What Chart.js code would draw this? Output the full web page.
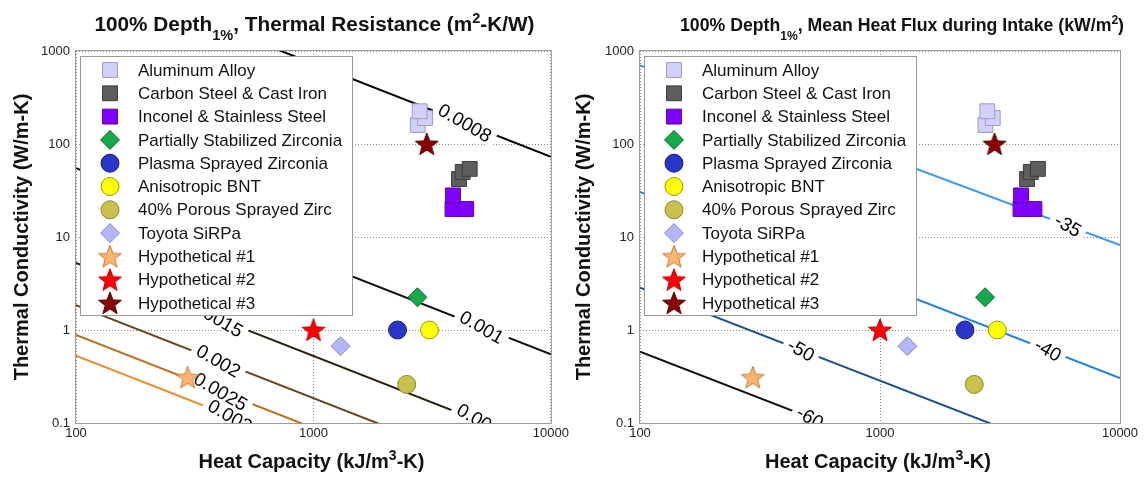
<!DOCTYPE html>
<html>
<head>
<meta charset="utf-8">
<script src="https://cdn.jsdelivr.net/npm/chart.js@4.4.1/dist/chart.umd.min.js"></script>
<style>
  html, body { margin: 0; padding: 0; background: #fff; }
  #wrap { position: relative; width: 1144px; height: 477px; }
  .panel { position: absolute; top: 0; width: 572px; height: 477px; }
</style>
</head>
<body>
<div id="wrap">
  <div class="panel" style="left:0"><canvas id="chartResist" width="572" height="477"></canvas></div>
  <div class="panel" style="left:572px"><canvas id="chartFlux" width="572" height="477"></canvas></div>
</div>
<script>
// DATA

const materials = [
  'Aluminum Alloy', 'Carbon Steel & Cast Iron', 'Inconel & Stainless Steel',
  'Partially Stabilized Zirconia', 'Plasma Sprayed Zirconia', 'Anisotropic BNT',
  '40% Porous Sprayed Zirc', 'Toyota SiRPa', 'Hypothetical #1', 'Hypothetical #2', 'Hypothetical #3'
];

// [heat capacity kJ/m3-K, thermal conductivity W/m-K]
const aluminum = [[2750, 160], [2950, 190], [2800, 225]];
const carbonSteel = [[4100, 42], [4250, 50], [4550, 54]];
const inconel = [[3850, 20], [4400, 20], [3870, 28]];
const stabilizedZr = [[2740, 2.25]];
const plasmaZr = [[2260, 1.0]];
const bnt = [[3080, 1.0]];
const porousZr = [[2470, 0.26]];
const sirpa = [[1300, 0.67]];
const hyp1 = [[295, 0.31]];
const hyp2 = [[1000, 1.0]];
const hyp3 = [[3000, 100]];

const xTicks = [100, 1000, 10000];
const yTicks = [0.1, 1, 10, 100, 1000];

// contour levels, each line given by two points [C1, k1, C2, k2]
const resistLevels = ['0.0008', '0.001', '0.0015', '0.002', '0.0025', '0.003'];
const resistLines = [
  [100, 7300, 10000, 73],
  [100, 54.8, 10000, 0.548],
  [100, 5.25, 10000, 0.0525],
  [100, 1.85, 10000, 0.0185],
  [100, 0.883, 10000, 0.00883],
  [100, 0.53, 10000, 0.0053]
];
const resistLabelAt = [[4340], [5110], [390, 5200], [398], [406], [445]];

const fluxLevels = ['-35', '-40', '-50', '-60'];
const fluxLines = [
  [100, 700, 10000, 8.2],
  [100, 30.5, 10000, 0.305],
  [100, 2.85, 10000, 0.0285],
  [100, 0.585, 10000, 0.00585]
];
const fluxLabelAt = [[6070], [5010], [469], [511]];

// STYLE

const FONT = '"Liberation Sans", Arial, sans-serif';
Chart.defaults.font.family = FONT;

const seriesData = [aluminum, carbonSteel, inconel, stabilizedZr, plasmaZr, bnt, porousZr, sirpa, hyp1, hyp2, hyp3];

function starImage(fill, edge, r) {
  const s = Math.ceil(2 * r + 4);
  const c = document.createElement('canvas');
  c.width = s; c.height = s;
  const g = c.getContext('2d');
  g.beginPath();
  for (let i = 0; i < 10; i++) {
    const rr = i % 2 ? r * 0.42 : r;
    const ang = -Math.PI / 2 + i * Math.PI / 5;
    g.lineTo(s / 2 + rr * Math.cos(ang), s / 2 + rr * Math.sin(ang) + 1);
  }
  g.closePath();
  g.fillStyle = fill; g.fill();
  g.strokeStyle = edge; g.lineWidth = 1; g.stroke();
  return c;
}

const markerStyles = [
  { shape: 'rect', fill: '#d0d0f8', edge: '#9c9cc8', r: 10.5 },
  { shape: 'rect', fill: '#5e5e5e', edge: '#3c3c3c', r: 10.5 },
  { shape: 'rect', fill: '#7f00ff', edge: '#5a00b4', r: 10.5 },
  { shape: 'rectRot', fill: '#16a84a', edge: '#0c6a2c', r: 9.5 },
  { shape: 'circle', fill: '#2a36c8', edge: '#17207a', r: 9 },
  { shape: 'circle', fill: '#ffff00', edge: '#9a9a00', r: 9 },
  { shape: 'circle', fill: '#c8c24c', edge: '#8a8630', r: 9 },
  { shape: 'rectRot', fill: '#b6b6f6', edge: '#8a8ad0', r: 9.5 },
  { shape: starImage('#ffb470', '#c07a3a', 12), fill: '#ffb470', edge: '#c07a3a', r: 12 },
  { shape: starImage('#ff0000', '#b80000', 12), fill: '#ff0000', edge: '#b80000', r: 12 },
  { shape: starImage('#8b0000', '#4a0000', 12), fill: '#8b0000', edge: '#4a0000', r: 12 }
];

const resistColors = ['#000000', '#111111', '#2e2010', '#6a4520', '#b96e20', '#ea8a2e'];
const fluxColors = ['#3a96f0', '#1f7fe6', '#1c4f8f', '#111111'];

// DRAWING HELPERS

function drawRich(ctx, parts, cx, y, size, fitWidth) {
  const fontFor = p => 'bold ' + (p.sub || p.sup ? Math.round(size * 0.7) : size) + 'px ' + FONT;
  let w = 0;
  parts.forEach(p => { ctx.font = fontFor(p); w += ctx.measureText(p.t).width; });
  const sx = fitWidth ? fitWidth / w : 1;
  ctx.save();
  ctx.translate(cx - w * sx / 2, y);
  ctx.scale(sx, 1);
  ctx.fillStyle = '#111';
  ctx.textAlign = 'left';
  ctx.textBaseline = 'alphabetic';
  let x = 0;
  parts.forEach(p => {
    ctx.font = fontFor(p);
    const dy = p.sub ? size * 0.45 : (p.sup ? -size * 0.38 : 0);
    ctx.fillText(p.t, x, dy);
    x += ctx.measureText(p.t).width;
  });
  ctx.restore();
}

function drawContourLabels(chart, cfg) {
  const { ctx, chartArea: a, scales: { x, y } } = chart;
  ctx.save();
  ctx.beginPath();
  ctx.rect(a.left, a.top, a.right - a.left, a.bottom - a.top);
  ctx.clip();
  ctx.font = '19px ' + FONT;
  ctx.textAlign = 'center';
  ctx.textBaseline = 'middle';
  cfg.levels.forEach((lvl, i) => {
    const [c1, k1, c2, k2] = cfg.lines[i];
    cfg.labelAt[i].forEach(c => {
      const t = (Math.log10(c) - Math.log10(c1)) / (Math.log10(c2) - Math.log10(c1));
      const k = Math.pow(10, Math.log10(k1) + t * (Math.log10(k2) - Math.log10(k1)));
      const px = x.getPixelForValue(c), py = y.getPixelForValue(k);
      ctx.save();
      ctx.translate(px, py);
      ctx.rotate(30 * Math.PI / 180);
      const w = ctx.measureText(lvl).width;
      ctx.fillStyle = '#fff';
      ctx.fillRect(-w / 2 - 5, -8, w + 10, 16);
      ctx.fillStyle = '#000';
      ctx.fillText(lvl, 0, 1);
      ctx.restore();
    });
  });
  ctx.restore();
}

function drawLegend(chart) {
  const { ctx, chartArea: a } = chart;
  const lx = a.left + 4, ly = a.top + 5, lw = 272, lh = 259;
  ctx.save();
  ctx.fillStyle = '#fff';
  ctx.fillRect(lx, ly, lw, lh);
  ctx.strokeStyle = '#9a9a9a';
  ctx.lineWidth = 1;
  ctx.strokeRect(lx + 0.5, ly + 0.5, lw, lh);
  ctx.font = '17px ' + FONT;
  ctx.textAlign = 'left';
  ctx.textBaseline = 'middle';
  materials.forEach((name, i) => {
    const st = markerStyles[i];
    const yy = ly + 14 + i * 23.3;
    ctx.fillStyle = st.fill;
    ctx.strokeStyle = st.edge;
    ctx.lineWidth = 1;
    Chart.helpers.drawPoint(ctx, { pointStyle: st.shape, radius: st.r, rotation: 0, borderWidth: 1 }, lx + 30, yy);
    ctx.fillStyle = '#111';
    ctx.fillText(name, lx + 58, yy + 1);
  });
  ctx.restore();
}

function panelPlugin(cfg) {
  return {
    id: 'panel' + cfg.id,
    beforeDatasetDraw(chart, args) {
      if (args.index === materials.length - 1) drawContourLabels(chart, cfg);
    },
    afterDatasetsDraw(chart) {
      const { ctx, chartArea: a } = chart;
      ctx.save();
      ctx.strokeStyle = '#9c9c9c';
      ctx.lineWidth = 1;
      ctx.strokeRect(a.left - 0.5, a.top - 0.5, a.right - a.left + 1, a.bottom - a.top + 1);
      ctx.restore();
      drawLegend(chart);
    },
    afterDraw(chart) {
      const { ctx, chartArea: a } = chart;
      const mid = (a.left + a.right) / 2;
      drawRich(ctx, cfg.title, mid + cfg.titleShift, 31, cfg.titleSize, cfg.titleWidth);
      drawRich(ctx, [{ t: 'Heat Capacity (kJ/m' }, { t: '3', sup: true }, { t: '-K)' }], mid - 2, 468, 20, 226);
    }
  };
}

function makeChart(cfg) {
  const datasets = materials.map((name, i) => ({
    label: name,
    data: seriesData[i].map(([c, k]) => ({ x: c, y: k })),
    pointStyle: markerStyles[i].shape,
    pointRadius: markerStyles[i].r,
    backgroundColor: markerStyles[i].fill,
    borderColor: markerStyles[i].edge,
    borderWidth: 1,
    showLine: false
  }));
  cfg.lines.forEach((ln, i) => datasets.push({
    label: cfg.levels[i],
    data: [{ x: ln[0], y: ln[1] }, { x: ln[2], y: ln[3] }],
    showLine: true,
    pointRadius: 0,
    borderColor: cfg.colors[i],
    borderWidth: 2,
    fill: false
  }));

  new Chart(document.getElementById(cfg.id), {
    type: 'scatter',
    data: { datasets },
    options: {
      responsive: false,
      animation: false,
      layout: { padding: { left: 0, top: 51, right: cfg.padRight, bottom: 0 } },
      plugins: { legend: { display: false }, tooltip: { enabled: false }, title: { display: false } },
      scales: {
        x: {
          type: 'logarithmic', min: 100, max: 10000,
          afterBuildTicks: s => { s.ticks = xTicks.map(v => ({ value: v })); },
          afterFit: s => { s.height = 54; },
          ticks: { callback: v => String(v), font: { size: 13 }, color: '#222', padding: 3, maxRotation: 0, autoSkip: false },
          grid: { color: '#8a8a8a', lineWidth: 1, drawTicks: false },
          border: { display: false, dash: [1, 2] }
        },
        y: {
          type: 'logarithmic', min: 0.1, max: 1000,
          afterBuildTicks: s => { s.ticks = yTicks.map(v => ({ value: v })); },
          afterFit: s => { s.width = cfg.yAxisWidth; },
          ticks: { callback: v => String(v), font: { size: 13 }, color: '#222', padding: 6, autoSkip: false },
          grid: { color: '#8a8a8a', lineWidth: 1, drawTicks: false },
          border: { display: false, dash: [1, 2] },
          title: {
            display: true, text: 'Thermal Conductivity (W/m-K)', color: '#111',
            font: { size: 20, weight: 'bold' }, padding: { top: cfg.yTitlePad, bottom: 0 }
          }
        }
      }
    },
    plugins: [panelPlugin(cfg)]
  });
}

document.addEventListener('DOMContentLoaded', () => {
  makeChart({
    id: 'chartResist', levels: resistLevels, lines: resistLines, labelAt: resistLabelAt, colors: resistColors,
    padRight: 16, yAxisWidth: 76, yTitlePad: 10, titleShift: 1, titleWidth: 440, titleSize: 20,
    title: [{ t: '100% Depth' }, { t: '1%', sub: true }, { t: ', Thermal Resistance (m' }, { t: '2', sup: true }, { t: '-K/W)' }]
  });
  makeChart({
    id: 'chartFlux', levels: fluxLevels, lines: fluxLines, labelAt: fluxLabelAt, colors: fluxColors,
    padRight: 24, yAxisWidth: 68, yTitlePad: 0, titleShift: 22, titleWidth: 444, titleSize: 19,
    title: [{ t: '100% Depth' }, { t: '1%', sub: true }, { t: ', Mean Heat Flux during Intake (kW/m' }, { t: '2', sup: true }, { t: ')' }]
  });
});
</script>
</body>
</html>
